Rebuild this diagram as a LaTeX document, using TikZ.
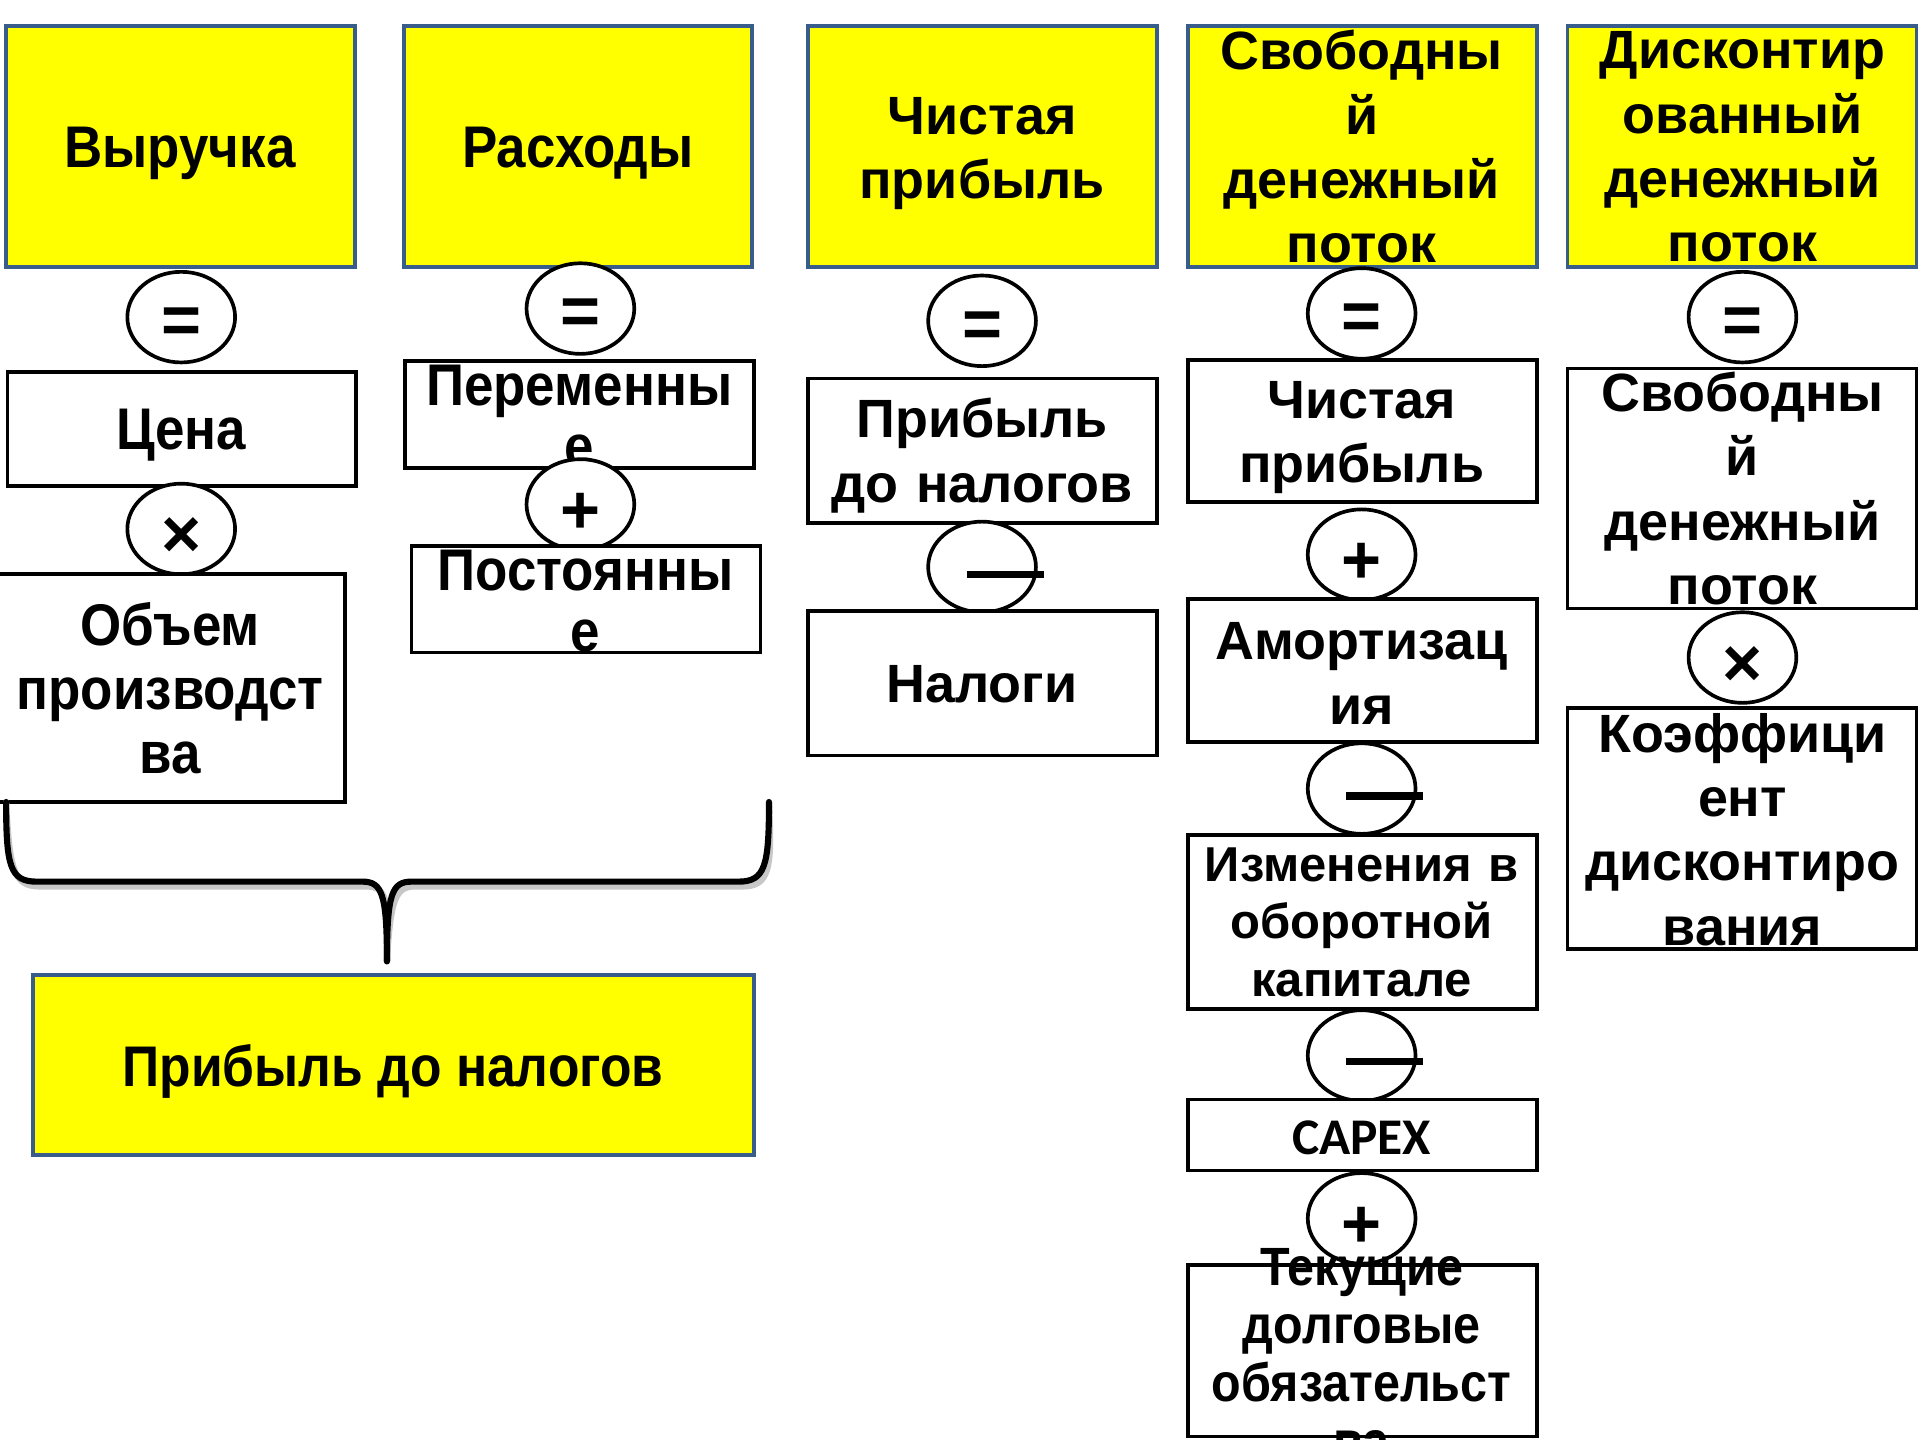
\documentclass[tikz,border=0pt]{standalone}
\usepackage{fontspec}
\setmainfont{Liberation Sans}
\newfontfamily\narrowfont{Liberation Sans}[FakeStretch=0.9]
\newfontfamily\calfont{Carlito}
\usetikzlibrary{shapes.geometric}
\definecolor{bordblue}{RGB}{56,93,138}
\definecolor{ppyellow}{RGB}{255,255,0}
\newcommand\wideA{\fontsize{22pt}{26.25pt}\selectfont\bfseries}
\newcommand\wideB{\fontsize{20pt}{23.5pt}\selectfont\bfseries}
\newcommand\narrA{\narrowfont\fontsize{24pt}{26.25pt}\selectfont\bfseries}
\newcommand\narrD{\narrowfont\fontsize{23.4pt}{26pt}\selectfont\bfseries}
\newcommand\narrC{\narrowfont\fontsize{24pt}{25pt}\selectfont\bfseries}
\newcommand\narrB{\narrowfont\fontsize{22pt}{23.65pt}\selectfont\bfseries}
\newcommand\capfont{\calfont\fontsize{21pt}{25pt}\selectfont\bfseries}
\tikzset{
  ybox/.style={draw=bordblue, line width=1.5pt, fill=ppyellow, minimum width=142.5pt, minimum height=98.5pt, inner sep=0pt},
  wbox/.style={draw=black, line width=1.5pt, fill=white, minimum width=142.5pt, inner sep=0pt},
  opel/.style={ellipse, draw=black, line width=1.5pt, fill=white, minimum width=44pt, minimum height=37pt, inner sep=0pt},
  opsym/.style={inner sep=0pt, yshift=-3.5pt, font=\fontsize{28pt}{28pt}\selectfont\bfseries},
  tw/.style={inner sep=0pt, align=center, text width=170pt, font=\wideA},
  twb/.style={inner sep=0pt, align=center, text width=170pt, font=\wideB},
  tn/.style={inner sep=0pt, align=center, text width=170pt, font=\narrA},
  tnc/.style={inner sep=0pt, align=center, text width=170pt, font=\narrC},
  tnb/.style={inner sep=0pt, align=center, text width=170pt, font=\narrB},
  minusbar/.style={inner sep=0pt},
  bracestyle/.style={line width=2.5pt, line cap=round, line join=round}
}
\begin{document}
\begin{tikzpicture}[x=0.5pt,y=-0.5pt]
\useasboundingbox (0,0) rectangle (1568,1176);
% ---------- Column 1
\node[ybox] (y1) at (147.5,119.5) {};
\node[tn] (y1t) at (147,125) {Выручка};
\node[opel, label={[opsym]center:=}] (e1a) at (148,259) {};
\node[wbox, minimum height=46.5pt] (b1a) at (148.5,350.5) {};
\node[tn] (b1at) at (148,355) {Цена};
\node[opel, label={[opsym]center:×}] (e1b) at (148,432) {};
\node[wbox, minimum width=143pt, minimum height=93pt] (b1b) at (139,562) {};
\node[tn] (b1bt) at (139,562) {Объем\\производст\\ва};
% ---------- Column 2
\node[ybox, minimum width=142pt] (y2) at (472,119.5) {};
\node[tn] (y2t) at (472,125) {Расходы};
\node[opel, label={[opsym]center:=}] (e2a) at (474,252) {};
\node[wbox, minimum height=43.5pt] (b2a) at (473.5,338.5) {};
\node[tnc] (b2at) at (473,340) {Переменны\\е};
\node[opel, label={[opsym]center:+}] (e2b) at (474,412) {};
\node[wbox, minimum height=43.5pt] (b2b) at (478.5,489.5) {};
\node[tnc] (b2bt) at (478,491) {Постоянны\\е};
% ---------- Brace
\coordinate (brL) at (5,655);
\coordinate (brR) at (628,655);
\coordinate (brT) at (316,785);
\begin{scope}[shift={(3,4)}]
\draw[bracestyle, black!22] (brL) .. controls (5,707) and (8,720) .. (30,720) -- (296,720)
   .. controls (312,720) and (316,730) .. (brT);
\draw[bracestyle, black!22] (brR) .. controls (628,707) and (625,720) .. (603,720) -- (336,720)
   .. controls (320,720) and (316,730) .. (brT);
\end{scope}
\draw[bracestyle] (brL) .. controls (5,707) and (8,720) .. (30,720) -- (296,720)
   .. controls (312,720) and (316,730) .. (brT);
\draw[bracestyle] (brR) .. controls (628,707) and (625,720) .. (603,720) -- (336,720)
   .. controls (320,720) and (316,730) .. (brT);
% ---------- Bottom result
\node[ybox, minimum width=294.5pt, minimum height=73.5pt] (y6) at (321.5,869.5) {};
\node[inner sep=0pt, font=\narrD] (y6t) at (321,875) {Прибыль до налогов};
% ---------- Column 3
\node[ybox] (y3) at (802.5,119.5) {};
\node[tw] (y3t) at (802,125.5) {Чистая\\прибыль};
\node[opel, label={[opsym]center:=}] (e3a) at (802,262) {};
\node[wbox, minimum height=59pt] (b3a) at (802.5,368) {};
\node[tw] (b3at) at (802,372) {Прибыль\\до налогов};
\node[opel] (e3b) at (802,463) {};
\node[minusbar] (d3b) at (821,469) {\rule{31.5pt}{3pt}};
\node[wbox, minimum height=59pt] (b3b) at (802.5,558) {};
\node[tw] (b3bt) at (802,559) {Налоги};
% ---------- Column 4
\node[ybox] (y4) at (1112.5,119.5) {};
\node[tw] (y4t) at (1112,120) {Свободны\\й\\денежный\\поток};
\node[opel, label={[opsym]center:=}] (e4a) at (1112,256) {};
\node[wbox, minimum height=58pt] (b4a) at (1112.5,352) {};
\node[tw] (b4at) at (1112,357.5) {Чистая\\прибыль};
\node[opel, label={[opsym]center:+}] (e4b) at (1112,453) {};
\node[wbox, minimum height=58.5pt] (b4b) at (1112.5,547.5) {};
\node[tw] (b4bt) at (1112,550) {Амортизац\\ия};
\node[opel] (e4c) at (1112,644) {};
\node[minusbar] (d4c) at (1131,650) {\rule{31.5pt}{3pt}};
\node[wbox, minimum height=71pt] (b4c) at (1112.5,753) {};
\node[twb] (b4ct) at (1112,753) {Изменения в\\оборотной\\капитале};
\node[opel] (e4d) at (1112,862) {};
\node[minusbar] (d4d) at (1131,867) {\rule{31.5pt}{3pt}};
\node[wbox, minimum height=29pt] (b4d) at (1112.5,927) {};
\node[inner sep=0pt, font=\capfont] (b4dt) at (1112,929) {CAPEX};
\node[opel, label={[opsym]center:+}] (e4e) at (1112,995) {};
\node[wbox, minimum height=70pt] (b4e) at (1112.5,1103) {};
\node[tnb] (b4et) at (1112,1106) {Текущие\\долговые\\обязательст\\ва};
% ---------- Column 5
\node[ybox] (y5) at (1422.5,119.5) {};
\node[tw] (y5t) at (1423,120) {Дисконтир\\ованный\\денежный\\поток};
\node[opel, label={[opsym]center:=}] (e5a) at (1423,259) {};
\node[wbox, minimum height=98pt] (b5a) at (1422.5,399) {};
\node[tw] (b5at) at (1423,399) {Свободны\\й\\денежный\\поток};
\node[opel, label={[opsym]center:×}] (e5b) at (1423,537) {};
\node[wbox, minimum height=98.5pt] (b5b) at (1422.5,676.5) {};
\node[tw] (b5bt) at (1423,677.5) {Коэффици\\ент\\дисконтиро\\вания};
\end{tikzpicture}
\end{document}
